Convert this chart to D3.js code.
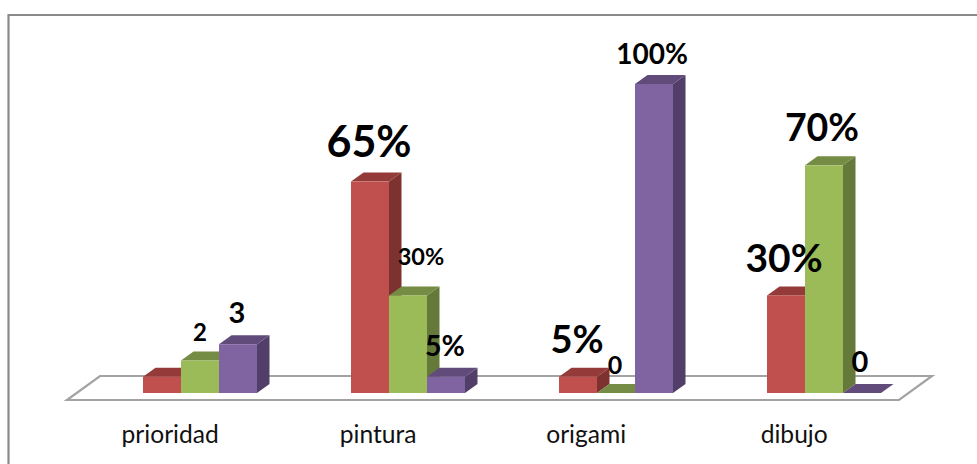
<!DOCTYPE html>
<html>
<head>
<meta charset="utf-8">
<style>html,body{margin:0;padding:0;background:#fff;overflow:hidden}svg{display:block}</style>
<script src="https://cdnjs.cloudflare.com/ajax/libs/d3/7.8.5/d3.min.js"></script>
</head>
<body>
<svg id="chart" width="977" height="464"></svg>
<script>
const categories = ["prioridad", "pintura", "origami", "dibujo"];
const seriesNames = ["s1", "s2", "s3"];
const series1 = [1, 13, 1, 6];
const series2 = [2, 6, 0, 14];
const series3 = [3, 1, 19, 0];
const labels1 = ["", "65%", "5%", "30%"];
const labels2 = ["2", "30%", "0", "70%"];
const labels3 = ["3", "5%", "100%", "0"];

const styleFront = ["#C0504D", "#9BBB59", "#8064A2"];
const styleTop = ["#943B39", "#748C43", "#604B7B"];
const styleSide = ["#7D3230", "#65793A", "#523F69"];
const labelSize1 = [0, 43, 38, 39];
const labelSize2 = [24, 23.5, 25, 37.5];
const labelSize3 = [29, 28.5, 28, 29];
const labelDx1 = [0, -1, -1, -2];
const labelDx2 = [0, 13, -1, -2];
const labelDx3 = [-1, -1, -2, -2];
const labelDy1 = [0, -25, -24, -23];
const labelDy2 = [-19.5, -30, -19, -24];
const labelDy3 = [-21, -21, -20, -21];

const values = [series1, series2, series3];
const texts = [labels1, labels2, labels3];
const sizes = [labelSize1, labelSize2, labelSize3];
const dxs = [labelDx1, labelDx2, labelDx3];
const dys = [labelDy1, labelDy2, labelDy3];

const svg = d3.select("#chart");
const baseY = 393, depthX = 12.5, depthY = 9, floorBack = 376, floorFront = 400;

// frame
svg.append("path").attr("d", "M8.5,464V15H977").attr("fill", "none")
  .attr("stroke", "#8a8a8a").attr("stroke-width", 2.2);

const x = d3.scaleBand().domain(categories).range([67, 899]);
const inner = d3.scaleBand().domain(seriesNames).range([0, 114]);
const y = d3.scaleLinear().domain([0, 19]).range([baseY, 84]);
const groupOffset = 76;

// floor
svg.append("path")
  .attr("d", d3.line()([[x.range()[0], floorFront], [100, floorBack], [932, floorBack], [x.range()[1], floorFront]]) + "Z")
  .attr("fill", "#fff").attr("stroke", "#a3a3a3").attr("stroke-width", 2.2);

const line = d3.line();
categories.forEach((c, ci) => {
  const gx = x(c) + groupOffset;
  seriesNames.forEach((s, si) => {
    const v = values[si][ci];
    const l = gx + inner(s), r = l + inner.bandwidth(), t = y(v), b = y(0);
    const g = svg.append("g");
    if (v > 0) {
      g.append("path").attr("fill", styleSide[si])
        .attr("d", line([[r, t], [r + depthX, t - depthY], [r + depthX, b - depthY], [r, b]]) + "Z");
    }
    g.append("path").attr("fill", styleTop[si])
      .attr("d", line([[l, t], [l + depthX, t - depthY], [r + depthX, t - depthY], [r, t]]) + "Z");
    if (v > 0) {
      g.append("rect").attr("x", l).attr("y", t).attr("width", r - l).attr("height", b - t)
        .attr("fill", styleFront[si]);
    }
  });
});

// value labels
const labelFont = "Lato, 'Open Sans', sans-serif";
categories.forEach((c, ci) => {
  const gx = x(c) + groupOffset;
  seriesNames.forEach((s, si) => {
    const txt = texts[si][ci];
    if (!txt) return;
    svg.append("text").attr("class", "lbl")
      .attr("x", gx + inner(s) + inner.bandwidth() / 2 + dxs[si][ci])
      .attr("y", y(values[si][ci]) + dys[si][ci])
      .attr("text-anchor", "middle")
      .attr("font-family", labelFont).attr("font-weight", 700)
      .attr("font-size", sizes[si][ci]).attr("fill", "#000")
      .text(txt);
  });
});

// category axis labels
svg.selectAll("text.cat").data(categories).join("text")
  .attr("class", "cat")
  .attr("x", d => x(d) + x.bandwidth() / 2 - 0.8)
  .attr("y", 443)
  .attr("text-anchor", "middle")
  .attr("font-family", labelFont)
  .attr("font-size", 24.6).attr("fill", "#111")
  .text(d => d);
</script>
</body>
</html>
